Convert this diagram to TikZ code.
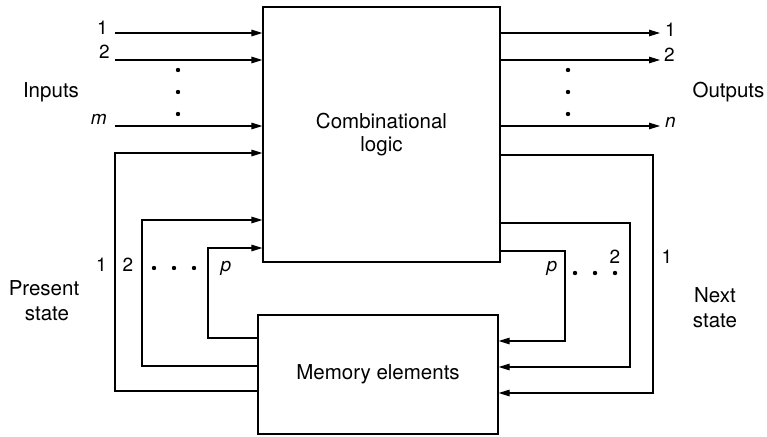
\documentclass[tikz,border=0pt]{standalone}
\usepackage{fontspec}
\setmainfont{TeX Gyre Heros}
\usetikzlibrary{arrows.meta}
\begin{document}
\begin{tikzpicture}[x=1pt,y=-1pt,
  arr/.style={line width=1.2pt,-{Triangle[length=11pt,width=6.5pt]}},
  box/.style={draw,line width=1.2pt,inner sep=0pt,align=center,font=\fontsize{20.5}{23}\selectfont},
  word/.style={font=\fontsize{20.5}{24}\selectfont,inner sep=0pt,anchor=base},
  lab/.style={font=\fontsize{19}{21}\selectfont,inner sep=0pt},
  dot/.style={circle,fill,inner sep=0pt,minimum size=4.4pt}]
\useasboundingbox (0,0) rectangle (767,436);

% boxes
\node[box,minimum width=237pt,minimum height=255pt] (comb) at (381.5,134.5) {Combinational\\logic};
\node[box,minimum width=240pt,minimum height=119pt] (mem) at (378,374.5) {Memory elements};

% inputs
\coordinate (in1) at (115,33);
\coordinate (in2) at (115,60);
\coordinate (inm) at (115,126);
\draw[arr] (in1) -- (in1 -| comb.west);
\draw[arr] (in2) -- (in2 -| comb.west);
\draw[arr] (inm) -- (inm -| comb.west);

% outputs
\coordinate (out1) at (660,33);
\coordinate (out2) at (660,60);
\coordinate (outn) at (660,126);
\draw[arr] (out1 -| comb.east) -- (out1);
\draw[arr] (out2 -| comb.east) -- (out2);
\draw[arr] (outn -| comb.east) -- (outn);

% next state (right feedback)
\coordinate (R1) at (653,155);  \coordinate (R1b) at (653,393);
\coordinate (R2) at (630,223);  \coordinate (R2b) at (630,367);
\coordinate (Rp) at (565,251);  \coordinate (Rpb) at (565,341);
\draw[arr] (comb.east |- R1) -- (R1) -- (R1b) -- (R1b -| mem.east);
\draw[arr] (comb.east |- R2) -- (R2) -- (R2b) -- (R2b -| mem.east);
\draw[arr] (comb.east |- Rp) -- (Rp) -- (Rpb) -- (Rpb -| mem.east);

% present state (left feedback)
\coordinate (L1) at (115,391);  \coordinate (L1t) at (115,153);
\coordinate (L2) at (142,366);  \coordinate (L2t) at (142,220);
\coordinate (Lp) at (208,338);  \coordinate (Lpt) at (208,248);
\draw[arr] (L1 -| mem.west) -- (L1) -- (L1t) -- (L1t -| comb.west);
\draw[arr] (L2 -| mem.west) -- (L2) -- (L2t) -- (L2t -| comb.west);
\draw[arr] (Lp -| mem.west) -- (Lp) -- (Lpt) -- (Lpt -| comb.west);

% input labels
\node[lab,anchor=base east] (li1) at (108,35) {1};
\node[lab,anchor=base east] (li2) at (110,58) {2};
\node[lab,anchor=base east] (lim) at (107,124) {\itshape m};
\node[word] (inputs) at (51,97) {Inputs};
\node[dot] (di1) at (178,70) {};
\node[dot] (di2) at (178,92) {};
\node[dot] (di3) at (178,114) {};

% output labels
\node[lab,anchor=base west] (lo1) at (665,37) {1};
\node[lab,anchor=base west] (lo2) at (664,61) {2};
\node[lab,anchor=base west] (lon) at (665,127) {\itshape n};
\node[word] (outputs) at (728.5,97) {Outputs};
\node[dot] (do1) at (568,70) {};
\node[dot] (do2) at (568,92) {};
\node[dot] (do3) at (568,114) {};

% present state labels
\node[lab,anchor=base] (lp1) at (101.5,271) {1};
\node[lab,anchor=base] (lp2) at (128,271) {2};
\node[lab,anchor=base] (lpp) at (226,271) {\itshape p};
\node[dot] (dp1) at (154,268) {};
\node[dot] (dp2) at (174,268) {};
\node[dot] (dp3) at (194,268) {};
\node[word] (present) at (44,295) {Present};
\node[word] (pstate) at (47,320) {state};

% next state labels
\node[lab,anchor=base] (ln1) at (667,263) {1};
\node[lab,anchor=base] (ln2) at (615,263) {2};
\node[lab,anchor=base] (lnp) at (552,271) {\itshape p};
\node[dot] (dn1) at (575,273) {};
\node[dot] (dn2) at (595,273) {};
\node[dot] (dn3) at (615,273) {};
\node[word] (next) at (715,302) {Next};
\node[word] (nstate) at (715,327) {state};
\end{tikzpicture}
\end{document}
